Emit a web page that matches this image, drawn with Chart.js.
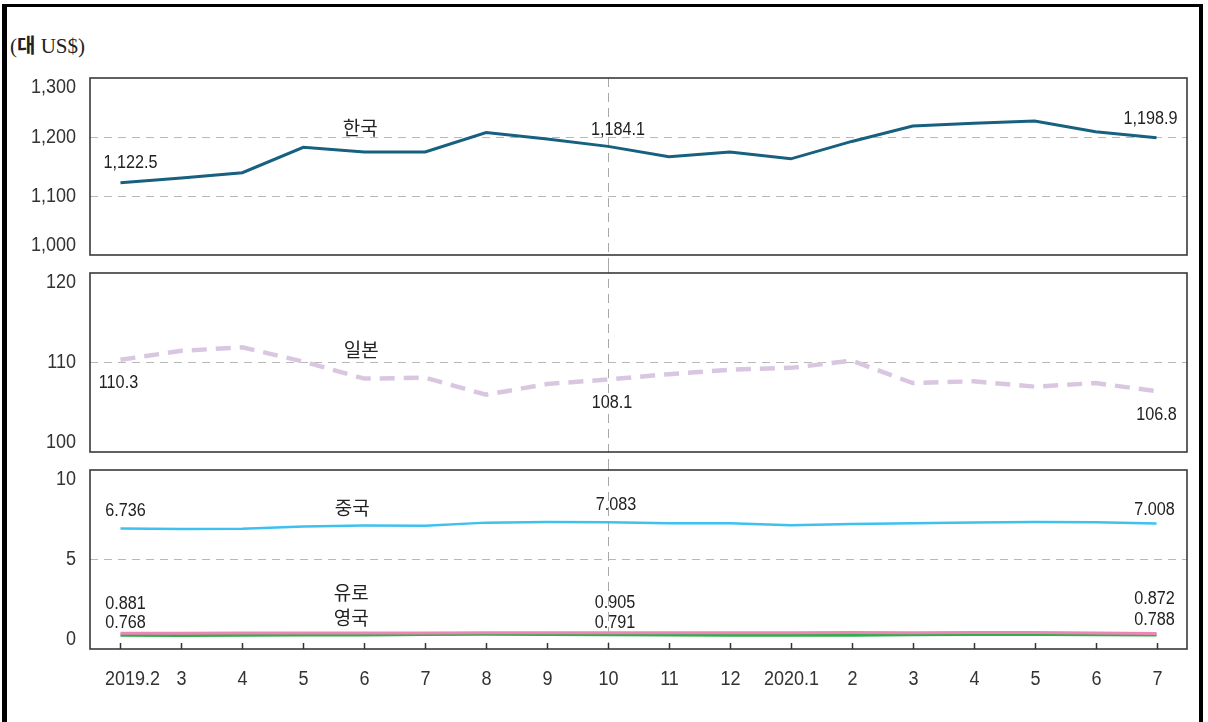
<!DOCTYPE html>
<html>
<head>
<meta charset="utf-8">
<script src="https://cdn.jsdelivr.net/npm/chart.js@4.4.1/dist/chart.umd.min.js"></script>
<style>
  html, body { margin: 0; padding: 0; background: #fff; }
  body { width: 1208px; height: 722px; position: relative; overflow: hidden; }
  #frame { position: absolute; left: 2px; top: 4px; width: 1192px; height: 718px;
           border-left: 5px solid #000; border-top: 3px solid #000; border-right: 4px solid #000; }
  #unit { position: absolute; left: 10px; top: 30px; font: 21px "Liberation Serif", "Noto Sans CJK KR", serif; color: #222; }
  #unit b { font-family: "Noto Sans CJK KR"; font-weight: 700; font-size: 20px; }
  canvas { position: absolute; left: 0; }
</style>
</head>
<body>
<div id="frame"></div>
<div id="unit">(<b>대</b> US$)</div>
<canvas id="krw" width="1208" height="204" style="top:60px"></canvas>
<canvas id="jpy" width="1208" height="198" style="top:264px"></canvas>
<canvas id="etc" width="1208" height="240" style="top:462px"></canvas>
<script>
// months on the x axis
const months = ['2019.2', '3', '4', '5', '6', '7', '8', '9', '10', '11', '12', '2020.1', '2', '3', '4', '5', '6', '7'];

// won / yen / yuan / euro / pound per US$
const korea = [1122.5, 1130.5, 1139.5, 1182.5, 1174.5, 1174.5, 1207.5, 1196.5, 1184.1, 1166.5, 1174.5, 1163.0, 1192.5, 1218.5, 1223.5, 1227.0, 1209.0, 1198.9];
const japan = [110.3, 111.3, 111.7, 110.1, 108.2, 108.3, 106.4, 107.6, 108.1, 108.7, 109.2, 109.4, 110.2, 107.7, 107.9, 107.3, 107.7, 106.8];
const china = [6.736, 6.71, 6.72, 6.85, 6.90, 6.88, 7.06, 7.10, 7.083, 7.03, 7.02, 6.92, 6.99, 7.02, 7.07, 7.10, 7.08, 7.008];
const euro = [0.881, 0.886, 0.890, 0.895, 0.888, 0.892, 0.901, 0.908, 0.905, 0.906, 0.901, 0.902, 0.918, 0.907, 0.921, 0.916, 0.888, 0.872];
const uk = [0.768, 0.760, 0.767, 0.777, 0.789, 0.806, 0.822, 0.809, 0.791, 0.776, 0.765, 0.765, 0.771, 0.800, 0.806, 0.814, 0.803, 0.788];

// y ticks of each panel
const koreaTicks = [1000, 1100, 1200, 1300];
const japanTicks = [100, 110, 120];
const otherTicks = [0, 5, 10];

const markIndex = 8; // 2019.10, dashed guide
const labelIdx = [0, 8, 17];

const NUM_FONT = '"Liberation Sans", Arial, sans-serif';
const KO_FONT = '"Noto Sans CJK KR", sans-serif';

const fmtKrw = v => v.toLocaleString('en-US', { minimumFractionDigits: 1, maximumFractionDigits: 1 });
const fmt1 = v => v.toFixed(1);
const fmt3 = v => v.toFixed(3);

// numbers in the source are set in a slightly narrow face
function narrowText(ctx, text, x, y) {
  ctx.save();
  ctx.translate(x, y);
  ctx.scale(0.9, 1);
  ctx.fillText(text, 0, 0);
  ctx.restore();
}

const panelDeco = {
  id: 'panelDeco',
  beforeDatasetsDraw(chart, args, o) {
    const { ctx, chartArea: a, scales: { x } } = chart;
    const vx = Math.round(x.getPixelForValue(markIndex)) + 0.5;
    ctx.save();
    ctx.strokeStyle = '#a8a8a8';
    ctx.lineWidth = 1;
    ctx.setLineDash([9, 6]);
    ctx.beginPath();
    ctx.moveTo(vx, o.lineFromArea ? a.top : 0);
    ctx.lineTo(vx, o.lineToArea ? a.bottom : chart.height);
    ctx.stroke();
    ctx.restore();
  },
  afterDraw(chart, args, o) {
    const { ctx, chartArea: a, scales: { x, y } } = chart;
    ctx.save();
    // panel box
    ctx.strokeStyle = '#3a3a3a';
    ctx.lineWidth = 1.6;
    ctx.strokeRect(a.left, a.top, a.right - a.left, a.bottom - a.top);

    // y tick labels, end ones pulled inside the box
    ctx.fillStyle = '#333';
    ctx.font = '20px ' + NUM_FONT;
    ctx.textAlign = 'right';
    ctx.textBaseline = 'middle';
    o.ticks.forEach(t => {
      let py = y.getPixelForValue(t);
      py = Math.min(Math.max(py, a.top + 9), a.bottom - 10);
      narrowText(ctx, o.tickFmt(t), a.left - 14, py);
    });

    // value labels
    ctx.fillStyle = '#222';
    ctx.font = '18px ' + NUM_FONT;
    ctx.textAlign = 'center';
    o.values.forEach(n => {
      const v = chart.data.datasets[n.ds].data[n.i];
      const px = x.getPixelForValue(n.i) + n.dx;
      const py = y.getPixelForValue(v) + n.dy;
      narrowText(ctx, n.fmt(v), px, py);
    });

    // series names
    ctx.font = '19px ' + KO_FONT;
    o.names.forEach(n => {
      ctx.fillText(n.text, x.getPixelForValue(n.i) + n.dx, y.getPixelForValue(n.v));
    });

    // category ticks and labels on the bottom panel
    if (o.xAxis) {
      ctx.strokeStyle = '#333';
      ctx.lineWidth = 1.5;
      ctx.fillStyle = '#333';
      ctx.font = '20px ' + NUM_FONT;
      months.forEach((m, i) => {
        const px = Math.round(x.getPixelForValue(i)) + 0.5;
        ctx.beginPath();
        ctx.moveTo(px, a.bottom);
        ctx.lineTo(px, a.bottom - 6);
        ctx.stroke();
        narrowText(ctx, m, px + (i === 0 ? 12 : 0), a.bottom + 30);
      });
    }
    ctx.restore();
  }
};

function panel(id, datasets, range, deco, pad) {
  return new Chart(document.getElementById(id), {
    type: 'line',
    data: { labels: months, datasets: datasets },
    options: {
      responsive: false,
      animation: false,
      layout: { padding: { top: pad[0], bottom: pad[1], left: 0, right: 21 } },
      elements: { point: { radius: 0 }, line: { tension: 0 } },
      plugins: { legend: { display: false }, tooltip: { enabled: false }, panelDeco: deco },
      scales: {
        x: { type: 'category', offset: true, display: false },
        y: {
          min: range[0], max: range[1],
          ticks: { stepSize: range[2], display: false },
          grid: {
            drawTicks: false,
            lineWidth: 1,
            color: c => (c.index === 0 || c.index === c.scale.ticks.length - 1) ? 'rgba(0,0,0,0)' : '#b8b8b8'
          },
          border: { display: false, dash: [8, 6] },
          afterFit: s => { s.width = 90; }
        }
      }
    },
    plugins: [panelDeco]
  });
}

panel('krw', [
  { data: korea, borderColor: '#17607f', borderWidth: 3 }
], [1000, 1300, 100], {
  ticks: koreaTicks, tickFmt: v => v.toLocaleString('en-US'),
  lineFromArea: true, lineToArea: false,
  values: [
    { ds: 0, i: labelIdx[0], dx: 10, dy: -20, fmt: fmtKrw },
    { ds: 0, i: labelIdx[1], dx: 10, dy: -16, fmt: fmtKrw },
    { ds: 0, i: labelIdx[2], dx: -6, dy: -19, fmt: fmtKrw }
  ],
  names: [{ text: '한국', i: 4, v: 1215, dx: -4 }]
}, [18, 9]);

panel('jpy', [
  { data: japan, borderColor: '#d9c7e1', borderWidth: 4.5, borderDash: [15, 9] }
], [100, 120, 10], {
  ticks: japanTicks, tickFmt: v => String(v),
  lineFromArea: false, lineToArea: false,
  values: [
    { ds: 0, i: labelIdx[0], dx: -2, dy: 23, fmt: fmt1 },
    { ds: 0, i: labelIdx[1], dx: 4, dy: 24, fmt: fmt1 },
    { ds: 0, i: labelIdx[2], dx: 0, dy: 24, fmt: fmt1 }
  ],
  names: [{ text: '일본', i: 4, v: 111.4, dx: -3 }]
}, [9, 10]);

panel('etc', [
  { data: china, borderColor: '#3ec1ef', borderWidth: 2.5 },
  { data: euro, borderColor: '#ee86b5', borderWidth: 3 },
  { data: uk, borderColor: '#2fae4b', borderWidth: 3 }
], [0, 10, 5], {
  ticks: otherTicks, tickFmt: v => String(v),
  lineFromArea: false, lineToArea: true, xAxis: true,
  values: [
    { ds: 0, i: labelIdx[0], dx: 5, dy: -17, fmt: fmt3 },
    { ds: 0, i: labelIdx[1], dx: 8, dy: -17, fmt: fmt3 },
    { ds: 0, i: labelIdx[2], dx: -2, dy: -14, fmt: fmt3 },
    { ds: 1, i: labelIdx[0], dx: 5, dy: -29, fmt: fmt3 },
    { ds: 1, i: labelIdx[1], dx: 7, dy: -30, fmt: fmt3 },
    { ds: 1, i: labelIdx[2], dx: -2, dy: -34, fmt: fmt3 },
    { ds: 2, i: labelIdx[0], dx: 5, dy: -12, fmt: fmt3 },
    { ds: 2, i: labelIdx[1], dx: 7, dy: -12, fmt: fmt3 },
    { ds: 2, i: labelIdx[2], dx: -2, dy: -15, fmt: fmt3 }
  ],
  names: [
    { text: '중국', i: 4, v: 7.88, dx: -12 },
    { text: '유로', i: 4, v: 3.13, dx: -13 },
    { text: '영국', i: 4, v: 1.73, dx: -13 }
  ]
}, [8, 53]);
</script>
</body>
</html>
